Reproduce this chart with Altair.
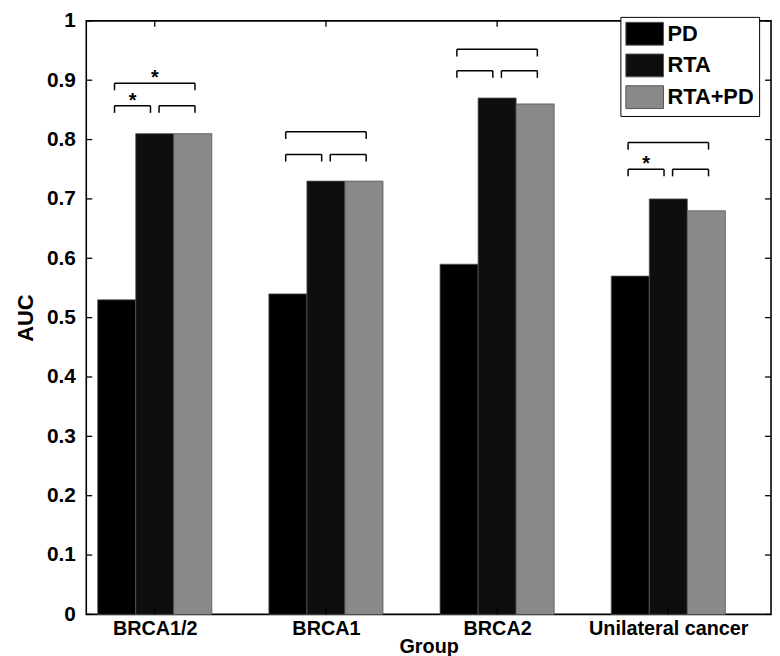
import altair as alt
import pandas as pd

# ---- data ----
groups = ["BRCA1/2", "BRCA1", "BRCA2", "Unilateral cancer"]
series = ["PD", "RTA", "RTA+PD"]
pd_vals = [0.53, 0.54, 0.59, 0.57]
rta_vals = [0.81, 0.73, 0.87, 0.70]
rtapd_vals = [0.81, 0.73, 0.86, 0.68]

# significance brackets: level of the pairwise (small) and the outer (large) bracket
small_level = [0.857, 0.775, 0.916, 0.750]
large_level = [0.895, 0.813, 0.952, 0.795]
stars = [("BRCA1/2", "left"), ("BRCA1/2", "large"), ("Unilateral cancer", "left")]

y_ticks = [0, 0.1, 0.2, 0.3, 0.4, 0.5, 0.6, 0.7, 0.8, 0.9, 1.0]

colors = ["#000000", "#0e0e0e", "#898989"]
FONT = "Liberation Sans"
W, H = 691, 599
BW = 0.2222  # bar width in group units
spans = {"left": (-0.235, -0.025), "right": (0.025, 0.235), "large": (-0.235, 0.235)}
LEG = 0.012

# ---- tables ----
rows = []
for gi, g in enumerate(groups):
    for si, (s, vals) in enumerate(zip(series, [pd_vals, rta_vals, rtapd_vals])):
        rows.append({"group": g, "gi": gi + 1, "series": s, "si": si, "auc": vals[gi]})
bars_df = pd.DataFrame(rows)

br_rows = []
for gi, g in enumerate(groups):
    for kind in ["left", "right", "large"]:
        lvl = large_level[gi] if kind == "large" else small_level[gi]
        a, b = spans[kind]
        br_rows.append({"group": g, "kind": kind, "x1": gi + 1 + a, "x2": gi + 1 + b,
                        "y": lvl, "ylow": lvl - LEG})
br_df = pd.DataFrame(br_rows)
star_df = br_df[[(r.group, r.kind) in stars for r in br_df.itertuples()]].copy()
star_df["xm"] = (star_df.x1 + star_df.x2) / 2
star_df["txt"] = "*"

xt_df = pd.DataFrame({"g": list(range(1, len(groups) + 1))})
yt_df = pd.DataFrame({"v": y_ticks})

xscale = alt.Scale(domain=[0.6, 4.6], nice=False, zero=False)
yscale = alt.Scale(domain=[0, 1], nice=False)

label_list = "[" + ",".join("'" + g + "'" for g in groups) + "]"
xaxis = alt.Axis(values=list(range(1, len(groups) + 1)), labelExpr=label_list + "[datum.value-1]",
                 ticks=False, domain=False, grid=False, labelFontSize=20, titleFontSize=20,
                 labelPadding=4, titlePadding=-2, labelFlush=False)
yaxis = alt.Axis(values=y_ticks, format="~g", ticks=False, domain=False, grid=False,
                 labelFontSize=21, titleFontSize=22, labelPadding=11, titlePadding=9)

bars = alt.Chart(bars_df).transform_calculate(
    x0=f"datum.gi + (datum.si - 1.5) * {BW}",
    x1=f"datum.gi + (datum.si - 0.5) * {BW}",
).mark_bar(stroke="#555555", strokeWidth=0.8).encode(
    x=alt.X("x0:Q", scale=xscale, axis=xaxis, title="Group"),
    x2="x1:Q",
    y=alt.Y("auc:Q", scale=yscale, axis=yaxis, title="AUC"),
    y2=alt.datum(0),
    color=alt.Color("series:N", scale=alt.Scale(domain=series, range=colors),
                    legend=alt.Legend(orient="none", legendX=539, legendY=-4, title=None,
                                      strokeColor="black", fillColor="white", padding=5,
                                      symbolType="M-1.65,-1H1.65V1H-1.65Z", symbolSize=529,
                                      symbolOffset=7.5,
                                      symbolStrokeColor="#555555", symbolStrokeWidth=1,
                                      labelFontSize=22, labelFontWeight="bold", labelFont=FONT,
                                      labelOffset=11, rowPadding=4,
                                      labelExpr="datum.label + '\u2002\u2002'")),
)

hx = alt.X("x1:Q", scale=xscale, title="Group")
br_h = alt.Chart(br_df).mark_rule(color="black", strokeWidth=1.5).encode(
    x=hx, x2="x2:Q", y=alt.Y("y:Q", scale=yscale, title="AUC"))
br_l = alt.Chart(br_df).mark_rule(color="black", strokeWidth=1.5).encode(
    x=hx, y=alt.Y("y:Q", scale=yscale, title="AUC"), y2="ylow:Q")
br_r = alt.Chart(br_df).mark_rule(color="black", strokeWidth=1.5).encode(
    x=alt.X("x2:Q", scale=xscale, title="Group"), y=alt.Y("y:Q", scale=yscale, title="AUC"), y2="ylow:Q")
star_t = alt.Chart(star_df).mark_text(fontSize=20, fontWeight="bold", font=FONT,
                                     baseline="alphabetic", dy=1, color="black").encode(
    x=alt.X("xm:Q", scale=xscale, title="Group"), y=alt.Y("y:Q", scale=yscale, title="AUC"),
    text="txt:N")

# inward tick marks on all four sides
tk_l = alt.Chart(yt_df).mark_rule(color="black", strokeWidth=1.3).encode(
    y=alt.Y("v:Q", scale=yscale, title="AUC"), x=alt.value(0), x2=alt.value(6))
tk_r = alt.Chart(yt_df).mark_rule(color="black", strokeWidth=1.3).encode(
    y=alt.Y("v:Q", scale=yscale, title="AUC"), x=alt.value(W - 6), x2=alt.value(W))
tk_b = alt.Chart(xt_df).mark_rule(color="black", strokeWidth=1.3).encode(
    x=alt.X("g:Q", scale=xscale, title="Group"), y=alt.value(H), y2=alt.value(H - 6))
tk_t = alt.Chart(xt_df).mark_rule(color="black", strokeWidth=1.3).encode(
    x=alt.X("g:Q", scale=xscale, title="Group"), y=alt.value(0), y2=alt.value(6))

chart = alt.layer(bars, br_h, br_l, br_r, star_t, tk_l, tk_r, tk_b, tk_t).properties(
    width=W, height=H,
    autosize=alt.AutoSizeParams(type="none"),
    padding={"left": 79, "top": 10, "right": 1, "bottom": 39},
).configure_view(stroke="black", strokeWidth=1.6).configure_axis(
    labelFont=FONT, titleFont=FONT, labelFontWeight="bold", titleFontWeight="bold",
    labelColor="black", titleColor="black",
).configure_legend(labelColor="black")

chart.save("out.html", embed_options={"renderer": "svg", "actions": False})
